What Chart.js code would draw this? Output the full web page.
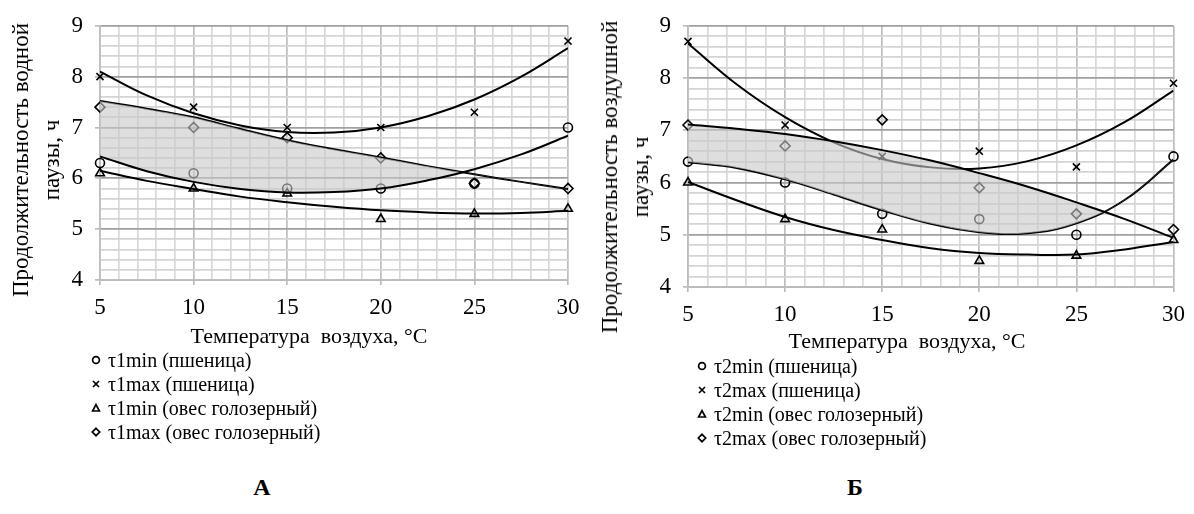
<!DOCTYPE html>
<html>
<head>
<meta charset="utf-8">
<script src="https://cdn.jsdelivr.net/npm/chart.js@4.4.1/dist/chart.umd.min.js"></script>
<style>
  body { margin: 0; background: #fff; }
  #page { position: relative; width: 1194px; height: 514px; overflow: hidden;
          font-family: "Liberation Serif", "Times New Roman", Tinos, "DejaVu Serif", "Noto Serif", serif; color: #000; }
  canvas { position: absolute; top: 0; }
  .ytitle { position: absolute; transform: translate(-50%, -50%) rotate(-90deg);
            white-space: nowrap; text-align: center; font-size: 23px; line-height: 31px; }
  .xtitle { position: absolute; transform: translate(-50%, -50%); white-space: pre; font-size: 22px; }
  .legend { position: absolute; font-size: 20px; }
  .legend div { display: flex; align-items: center; height: 24px; white-space: nowrap; }
  .legend svg { margin-right: 6px; }
  .letter { position: absolute; transform: translate(-50%, -50%); font-weight: bold; font-size: 24px; }
</style>
</head>
<body>
<div id="page">
  <canvas id="chartA" width="590" height="330" style="left:0"></canvas>
  <canvas id="chartB" width="604" height="330" style="left:590px"></canvas>

  <div class="ytitle" style="left:36px; top:160px">Продолжительность водной<br>паузы, ч</div>
  <div class="ytitle" style="left:625px; top:177px">Продолжительность воздушной<br>паузы, ч</div>
  <div class="xtitle" style="left:309px; top:336px">Температура  воздуха, °С</div>
  <div class="xtitle" style="left:907px; top:341px">Температура  воздуха, °С</div>
  <div class="legend" id="legendA" style="left:90px; top:348px"></div>
  <div class="legend" id="legendB" style="left:696px; top:354px"></div>
  <div class="letter" style="left:262px; top:487px">А</div>
  <div class="letter" style="left:855px; top:487px">Б</div>
</div>

<script>
const temps = [5, 10, 15, 20, 25, 30];
const trendTemps = [5, 7.5, 10, 12.5, 15, 17.5, 20, 22.5, 25, 27.5, 30];
const pointStyles = ["circle", "crossRot", "triangle", "rectRot"];

// А - водная пауза
const namesA = ["τ1min (пшеница)", "τ1max (пшеница)", "τ1min (овес голозерный)", "τ1max (овес голозерный)"];
const minWheatA = [6.3, 6.1, 5.8, 5.8, 5.9, 7.0];
const maxWheatA = [8.0, 7.4, 7.0, 7.0, 7.3, 8.7];
const minOatA = [6.1, 5.8, 5.7, 5.2, 5.3, 5.4];
const maxOatA = [7.4, 7.0, 6.8, 6.4, 5.9, 5.8];
// trend lines, every 2.5 °C
const minWheatTrendA = [6.43, 6.14, 5.93, 5.79, 5.72, 5.73, 5.80, 5.96, 6.18, 6.47, 6.84];
const maxWheatTrendA = [8.10, 7.63, 7.28, 7.04, 6.91, 6.90, 7.00, 7.22, 7.55, 8.00, 8.56];
const minOatTrendA = [6.15, 5.95, 5.79, 5.64, 5.53, 5.44, 5.37, 5.33, 5.31, 5.32, 5.36];
const maxOatTrendA = [7.52, 7.37, 7.20, 6.97, 6.75, 6.57, 6.41, 6.24, 6.08, 5.93, 5.79];

// Б - воздушная пауза
const namesB = ["τ2min (пшеница)", "τ2max (пшеница)", "τ2min (овес голозерный)", "τ2max (овес голозерный)"];
const minWheatB = [6.4, 6.0, 5.4, 5.3, 5.0, 6.5];
const maxWheatB = [8.7, 7.1, 6.5, 6.6, 6.3, 7.9];
const minOatB = [6.0, 5.3, 5.1, 4.5, 4.6, 4.9];
const maxOatB = [7.1, 6.7, 7.2, 5.9, 5.4, 5.1];
const minWheatTrendB = [6.39, 6.28, 6.06, 5.77, 5.47, 5.21, 5.05, 5.03, 5.22, 5.67, 6.44];
const maxWheatTrendB = [8.66, 7.88, 7.25, 6.77, 6.45, 6.29, 6.27, 6.41, 6.71, 7.16, 7.76];
const minOatTrendB = [6.01, 5.66, 5.34, 5.09, 4.90, 4.74, 4.65, 4.62, 4.62, 4.72, 4.86];
const maxOatTrendB = [7.11, 7.03, 6.93, 6.79, 6.62, 6.42, 6.18, 5.92, 5.62, 5.30, 4.94];

const yTicks = [4, 5, 6, 7, 8, 9];
const xTicks = [5, 10, 15, 20, 25, 30];

const shade = "rgba(200, 200, 200, 0.6)";
const font = { family: "'Liberation Serif', 'Times New Roman', Tinos, 'DejaVu Serif', 'Noto Serif', serif", size: 23 };
const isMajor = (v, list) => list.some(t => Math.abs(t - v) < 1e-6);

function toPoints(xs, ys) {
  return xs.map((t, i) => ({ x: t, y: ys[i] }));
}

function markerSvg(style) {
  const s = 'stroke="#000" stroke-width="1.7" fill="none"';
  let shape;
  if (style === "circle") shape = `<circle cx="6" cy="6" r="3.4" ${s}/>`;
  else if (style === "crossRot") shape = `<path d="M3 3L9 9M9 3L3 9" ${s}/>`;
  else if (style === "triangle") shape = `<path d="M6 2.6L9.4 9L2.6 9Z" ${s}/>`;
  else shape = `<path d="M6 2.3L9.7 6L6 9.7L2.3 6Z" ${s}/>`;
  return `<svg width="12" height="12" viewBox="0 0 12 12">${shape}</svg>`;
}

function buildLegend(id, names) {
  document.getElementById(id).innerHTML = names
    .map((n, i) => `<div>${markerSvg(pointStyles[i])}<span>${n}</span></div>`)
    .join("");
}

// series: 4 marker arrays, trends: 4 trend arrays
// fillFrom/fillTo: trend indexes bounding the shaded zone, side: "above" | "below"
function createChart(id, series, trends, box, fillFrom, fillTo, side) {
  const datasets = [];
  series.forEach((ys, i) => {
    datasets.push({
      data: toPoints(temps, ys),
      showLine: false,
      pointStyle: pointStyles[i],
      pointRadius: pointStyles[i] === "circle" ? 4.5 : 5,
      pointBorderColor: "#000",
      pointBackgroundColor: "transparent",
      pointBorderWidth: 1.6,
      clip: false,
    });
  });
  trends.forEach((ys, i) => {
    const ds = {
      data: toPoints(trendTemps, ys),
      showLine: true,
      borderColor: "#000",
      borderWidth: 2,
      pointRadius: 0,
      tension: 0.4,
      fill: false,
    };
    if (i === fillFrom) {
      ds.order = -1; // drawn last, so the shading lies over the other marks
      ds.fill = {
        target: 4 + fillTo,
        above: side === "above" ? shade : "transparent",
        below: side === "below" ? shade : "transparent",
      };
    }
    datasets.push(ds);
  });

  return new Chart(document.getElementById(id), {
    type: "scatter",
    data: { datasets },
    options: {
      responsive: false,
      animation: false,
      devicePixelRatio: 1,
      layout: { padding: { left: 0, top: box.top, right: box.right, bottom: box.bottom } },
      plugins: { legend: { display: false }, tooltip: { enabled: false } },
      scales: {
        x: {
          type: "linear",
          min: 5,
          max: 30,
          afterFit: (s) => { s.height = 40; },
          ticks: {
            stepSize: 1,
            autoSkip: false,
            maxRotation: 0,
            padding: 9,
            color: "#000",
            font,
            callback: (v) => (isMajor(v, xTicks) ? v : ""),
          },
          grid: {
            color: (c) => (c.tick && isMajor(c.tick.value, xTicks) ? "#bdbdbd" : "#d8d8d8"),
            lineWidth: 1.7,
            tickLength: 5,
            tickColor: (c) => (c.tick && isMajor(c.tick.value, xTicks) ? "#bdbdbd" : "transparent"),
          },
          border: { color: "#bdbdbd", width: 1.7 },
        },
        y: {
          min: 4,
          max: 9,
          afterFit: (s) => { s.width = box.yWidth; },
          ticks: {
            stepSize: 0.2,
            autoSkip: false,
            padding: 12,
            color: "#000",
            font,
            callback: (v) => (isMajor(v, yTicks) ? Math.round(v) : ""),
          },
          grid: {
            color: (c) => (c.tick && isMajor(c.tick.value, yTicks) ? "#a0a0a0" : "#d4d4d4"),
            lineWidth: 1.7,
            tickLength: 5,
            tickColor: (c) => (c.tick && isMajor(c.tick.value, yTicks) ? "#bdbdbd" : "transparent"),
          },
          border: { color: "#bdbdbd", width: 1.7 },
        },
      },
    },
  });
}

createChart(
  "chartA",
  [minWheatA, maxWheatA, minOatA, maxOatA],
  [minWheatTrendA, maxWheatTrendA, minOatTrendA, maxOatTrendA],
  { top: 24, right: 22, bottom: 10, yWidth: 100 },
  0, 3, "below"
);

createChart(
  "chartB",
  [minWheatB, maxWheatB, minOatB, maxOatB],
  [minWheatTrendB, maxWheatTrendB, minOatTrendB, maxOatTrendB],
  { top: 21, right: 14, bottom: 3, yWidth: 98 },
  3, 0, "above"
);

buildLegend("legendA", namesA);
buildLegend("legendB", namesB);
</script>
</body>
</html>
